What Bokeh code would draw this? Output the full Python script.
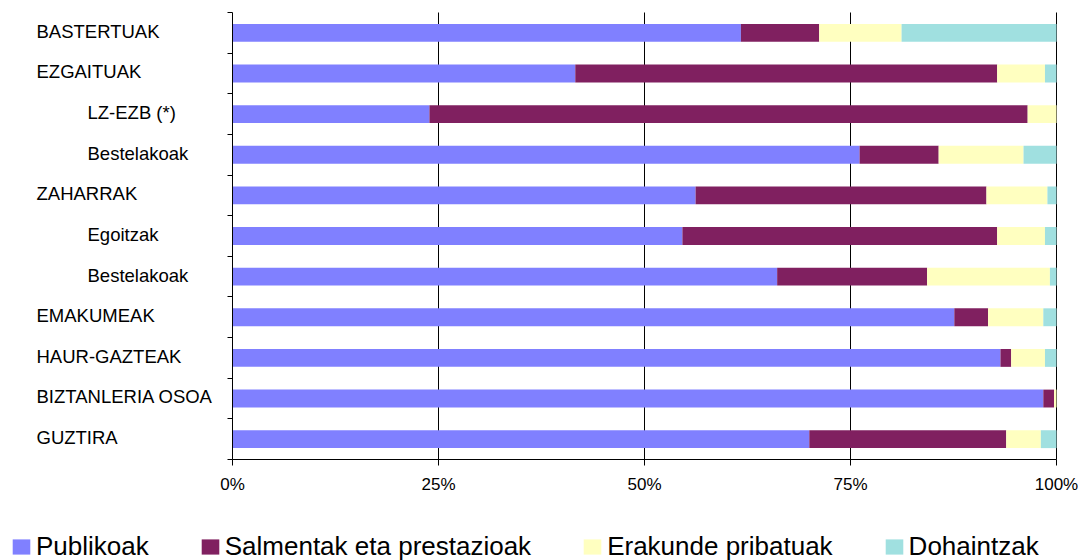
from bokeh.plotting import figure
from bokeh.models import (ColumnDataSource, Range1d, FixedTicker, PrintfTickFormatter,
                          Label, Legend, LegendItem, LinearAxis)
from bokeh.embed import file_html
from bokeh.resources import INLINE

# ---------------- data ----------------
categories = ["BASTERTUAK", "EZGAITUAK", "LZ-EZB (*)", "Bestelakoak", "ZAHARRAK",
              "Egoitzak", "Bestelakoak", "EMAKUMEAK", "HAUR-GAZTEAK",
              "BIZTANLERIA OSOA", "GUZTIRA"]
sub_level = [0, 0, 1, 1, 0, 1, 1, 0, 0, 0, 0]   # 1 = indented sub-category
publikoak = [61.7, 41.6, 23.9, 76.1, 56.2, 54.6, 66.1, 87.6, 93.2, 98.4, 70.0]
salmentak = [9.5, 51.2, 72.6, 9.6, 35.3, 38.2, 18.2, 4.1, 1.3, 1.3, 23.9]
erakunde = [10.0, 5.8, 3.5, 10.3, 7.4, 5.8, 14.9, 6.7, 4.1, 0.3, 4.2]
dohaintzak = [18.8, 1.4, 0.0, 4.0, 1.1, 1.4, 0.8, 1.6, 1.4, 0.0, 1.9]
series_names = ["Publikoak", "Salmentak eta prestazioak", "Erakunde pribatuak", "Dohaintzak"]
x_ticks = [0, 25, 50, 75, 100]

# ---------------- layout ----------------
W, H = 1078, 560
AX_L, AX_R, AX_T, AX_B = 232, 1056, 12, 459      # pixel box of the chart area
FONT = "Liberation Sans"
colors = ["#8080FF", "#802060", "#FFFFC0", "#A0E0E0"]
n = len(categories)

PX = (AX_R - AX_L) / 100.0          # pixels per percent
PY = (AX_B - AX_T) / float(n)       # pixels per category band
x_start = -AX_L / PX
y_start = -(H - AX_B) / PY
x_range = Range1d(x_start, x_start + W / PX)
y_range = Range1d(y_start, y_start + H / PY)

ypos = [n - 1 - i + 0.5 for i in range(n)]
keys = ["publikoak", "salmentak", "erakunde", "dohaintzak"]
source = ColumnDataSource(dict(y=ypos, publikoak=publikoak, salmentak=salmentak,
                               erakunde=erakunde, dohaintzak=dohaintzak))

p = figure(width=W, height=H, output_backend="svg", toolbar_location=None,
           x_range=x_range, y_range=y_range,
           x_axis_location=None, y_axis_location=None,
           min_border=0)
p.outline_line_color = None
p.background_fill_color = "white"
p.border_fill_color = "white"
p.grid.visible = False

# vertical grid lines at the x ticks
grid_x = x_ticks[1:]
p.segment(x0=grid_x, x1=grid_x, y0=[0] * len(grid_x), y1=[n] * len(grid_x),
          line_color="black", line_width=1)

renderers = p.hbar_stack(keys, y="y", height=0.44, color=colors, line_color=None,
                         source=source)

# axes drawn at fixed data locations
xaxis = LinearAxis(fixed_location=0, bounds=(0, 100), ticker=FixedTicker(ticks=x_ticks),
                   formatter=PrintfTickFormatter(format="%d%%"))
xaxis.major_label_text_font = FONT
xaxis.major_label_text_font_size = "17px"
xaxis.major_label_text_color = "black"
xaxis.major_label_standoff = 9
xaxis.major_tick_in = 0
xaxis.major_tick_out = 6
xaxis.minor_tick_line_color = None
xaxis.axis_line_color = "black"
xaxis.major_tick_line_color = "black"
p.add_layout(xaxis, "below")

yticks = list(range(n + 1))
yaxis = LinearAxis(fixed_location=0, bounds=(0, n), ticker=FixedTicker(ticks=yticks))
yaxis.major_label_overrides = {t: "" for t in yticks}
yaxis.major_tick_in = 0
yaxis.major_tick_out = 5
yaxis.minor_tick_line_color = None
yaxis.axis_line_color = "black"
yaxis.major_tick_line_color = "black"
p.add_layout(yaxis, "left")

# category labels (left aligned, sub-categories indented)
for cat, lvl, y in zip(categories, sub_level, ypos):
    sx = 36 if lvl == 0 else 87
    p.add_layout(Label(x=x_start + sx / PX, y=y + 0.04, text=cat,
                       text_font=FONT, text_font_size="18.5px", text_color="black",
                       text_align="left", text_baseline="middle"))

# legend
legend = Legend(items=[LegendItem(label=nm, renderers=[r])
                       for nm, r in zip(series_names, renderers)],
                orientation="horizontal", location=(10, -2),
                padding=0, margin=0, spacing=50, glyph_width=22, glyph_height=19,
                label_standoff=4, label_text_font=FONT, label_text_font_size="26px",
                label_text_color="black", border_line_color=None,
                background_fill_alpha=0)
p.add_layout(legend)

open("out.html", "w").write(file_html(p, INLINE))
